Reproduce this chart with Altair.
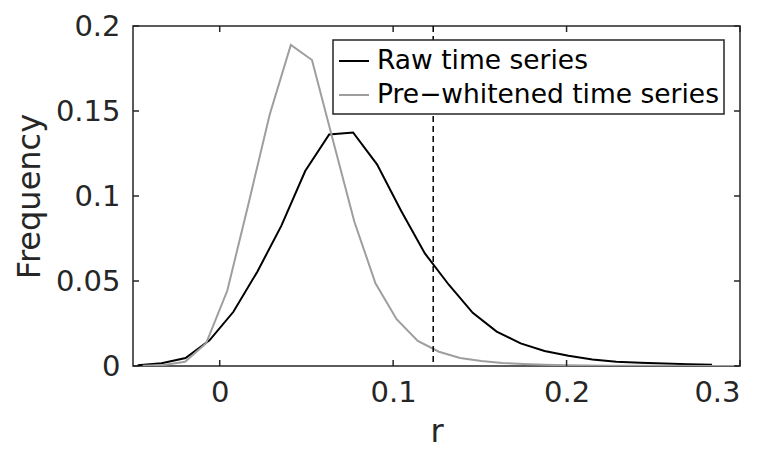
import altair as alt
import pandas as pd

# ---- data ----
raw_r = [-0.0473, -0.0335, -0.0197, -0.0059, 0.0079, 0.0217, 0.0355, 0.0493, 0.0631,
         0.0769, 0.0907, 0.1045, 0.1183, 0.1321, 0.1459, 0.1597, 0.1735, 0.1873,
         0.2011, 0.2149, 0.2287, 0.2425, 0.2563, 0.2701, 0.2839]
raw_freq = [0.0005, 0.0016, 0.0047, 0.0151, 0.0319, 0.0555, 0.0824, 0.1147, 0.1362,
            0.1374, 0.1186, 0.0915, 0.0662, 0.0478, 0.0313, 0.0202, 0.0133, 0.0088,
            0.0060, 0.0038, 0.0025, 0.0019, 0.0015, 0.0010, 0.0007]

pw_r = [-0.0444, -0.0322, -0.0200, -0.0078, 0.0044, 0.0166, 0.0288, 0.0410, 0.0532,
        0.0654, 0.0776, 0.0898, 0.1020, 0.1142, 0.1264, 0.1386, 0.1508, 0.1630,
        0.1752, 0.1874, 0.1996, 0.2118, 0.2240, 0.2362, 0.2484, 0.2606, 0.2728,
        0.2850, 0.2972]
pw_freq = [0.0002, 0.0006, 0.0025, 0.0134, 0.0444, 0.0955, 0.1478, 0.1889, 0.1800,
           0.1324, 0.0850, 0.0487, 0.0275, 0.0147, 0.0084, 0.0047, 0.0029, 0.0018,
           0.0012, 0.0007, 0.0004, 0.0003, 0.0002, 0.0001, 0.0001, 0.0001, 0.0000,
           0.0000, 0.0000]

threshold_r = [0.1231]
series_names = ["Raw time series", "Pre\u2212whitened time series"]
series_colors = ["#000000", "#9e9e9e"]
x_ticks = [0, 0.1, 0.2, 0.3]
y_ticks = [0, 0.05, 0.1, 0.15, 0.2]

df = pd.concat([
    pd.DataFrame({"r": raw_r, "freq": raw_freq, "series": series_names[0]}),
    pd.DataFrame({"r": pw_r, "freq": pw_freq, "series": series_names[1]}),
], ignore_index=True)
thr = pd.DataFrame({"r": threshold_r})
xt = pd.DataFrame({"r": x_ticks})
yt = pd.DataFrame({"freq": y_ticks})

FONT = "DejaVu Sans"
TXT = "#262626"
W, H = 607, 340
TL = 6  # tick length

x_scale = alt.Scale(domain=[-0.05, 0.3], nice=False, zero=False)
y_scale = alt.Scale(domain=[0, 0.2], nice=False, zero=False)

x_axis = alt.Axis(values=x_ticks, format="~g", title="r", ticks=False, domain=False,
                  grid=False, labelFontSize=29, labelFont=FONT, labelColor=TXT,
                  labelPadding=12, titleFontSize=32, titleFont=FONT, titleColor=TXT,
                  titleFontWeight="normal", titlePadding=9)
y_axis = alt.Axis(values=y_ticks, format="~g", title="Frequency", ticks=False,
                  domain=False, grid=False, labelFontSize=29, labelFont=FONT,
                  labelColor=TXT, labelPadding=13, titleFontSize=32, titleFont=FONT,
                  titleColor=TXT, titleFontWeight="normal", titlePadding=9)


def X():
    return alt.X("r:Q", scale=x_scale, axis=x_axis, title="r")


def Y():
    return alt.Y("freq:Q", scale=y_scale, axis=y_axis, title="Frequency")


lines = alt.Chart(df).mark_line(strokeWidth=2, clip=True).encode(
    x=X(),
    y=Y(),
    color=alt.Color("series:N",
                    scale=alt.Scale(domain=series_names, range=series_colors),
                    legend=alt.Legend(title=None, orient="none", legendX=200, legendY=14,
                                      direction="vertical", fillColor="white",
                                      strokeColor=TXT, padding=5, labelFontSize=26.5,
                                      labelFont=FONT, labelColor="#000000", labelLimit=600,
                                      symbolType="stroke", symbolSize=900,
                                      symbolStrokeWidth=2, labelOffset=7, rowPadding=4)),
)

rule = alt.Chart(thr).mark_rule(strokeDash=[6, 4], strokeWidth=1.5, color="#000000").encode(
    x=X(),
)

tick_style = dict(color=TXT, strokeWidth=1.5)
ticks_top = alt.Chart(xt).mark_rule(**tick_style).encode(
    x=X(), y=alt.value(0), y2=alt.value(TL))
ticks_bottom = alt.Chart(xt).mark_rule(**tick_style).encode(
    x=X(), y=alt.value(H - TL), y2=alt.value(H))
ticks_left = alt.Chart(yt).mark_rule(**tick_style).encode(
    y=Y(), x=alt.value(0), x2=alt.value(TL))
ticks_right = alt.Chart(yt).mark_rule(**tick_style).encode(
    y=Y(), x=alt.value(W - TL), x2=alt.value(W))

chart = alt.layer(
    lines, rule, ticks_top, ticks_bottom, ticks_left, ticks_right
).properties(
    width=W, height=H,
    autosize=alt.AutoSizeParams(type="none"),
    padding={"left": 125, "top": 18, "right": 10, "bottom": 86},
).configure_view(
    stroke=TXT, strokeWidth=1.5
).configure_legend(
    strokeWidth=1.5
)

chart.save("out.html", embed_options={"renderer": "svg", "actions": False})
